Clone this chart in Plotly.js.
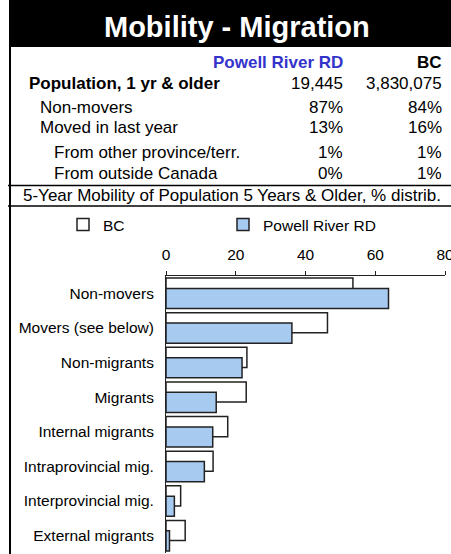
<!DOCTYPE html>
<html>
<head>
<meta charset="utf-8">
<script src="https://cdn.plot.ly/plotly-3.0.1.min.js"></script>
<style>
  html, body { margin: 0; padding: 0; background: #fff; }
  #chart { width: 451px; height: 554px; }
</style>
</head>
<body>
<div id="chart"></div>
<script>
// ---------- data ----------
const chartTitle = "Mobility - Migration";
const regionName = "Powell River RD";
const provName = "BC";
const tableLabels = ["Population, 1 yr & older", "Non-movers", "Moved in last year", "From other province/terr.", "From outside Canada"];
const tableRegion = ["19,445", "87%", "13%", "1%", "0%"];
const tableProv = ["3,830,075", "84%", "16%", "1%", "1%"];
const sectionTitle = "5-Year Mobility of Population 5 Years & Older, % distrib.";

const categories = ["Non-movers", "Movers (see below)", "Non-migrants", "Migrants", "Internal migrants", "Intraprovincial mig.", "Interprovincial mig.", "External migrants"];
const bcValues = [53.6, 46.3, 23.2, 23.0, 17.7, 13.5, 4.2, 5.5];
const prValues = [63.8, 36.1, 21.8, 14.4, 13.4, 11.0, 2.4, 1.0];
const xTicks = [0, 20, 40, 60, 80];

// ---------- layout helpers ----------
const W = 451, H = 554;
const M = { l: 166, r: 6, t: 276, b: 1 };
const PW = W - M.l - M.r, PH = H - M.t - M.b;
const px = v => (v - M.l) / PW;
const py = v => (H - M.b - v) / PH;
const FONT = "Liberation Sans, Arial, sans-serif";

function ann(text, x, baseline, anchor, size, color) {
  return {
    text: text, xref: "paper", yref: "paper",
    x: px(x), y: py(baseline - 0.36 * size),
    xanchor: anchor, yanchor: "middle", showarrow: false,
    font: { family: FONT, size: size, color: color || "#000" },
    borderpad: 0
  };
}

const annotations = [];
annotations.push(ann("<b>" + chartTitle + "</b>", 237, 37.5, "center", 29, "#fff"));
annotations.push(ann("<b>" + regionName + "</b>", 344, 68.3, "right", 17, "#3333CC"));
annotations.push(ann("<b>" + provName + "</b>", 443, 68.3, "right", 17, "#000"));
const rowBase = [90, 114, 134, 159, 179.3];
const rowIndent = [28, 39, 39, 53, 53];
tableLabels.forEach((lab, i) => {
  annotations.push(ann(i === 0 ? "<b>" + lab + "</b>" : lab, rowIndent[i], rowBase[i], "left", 17));
  annotations.push(ann(tableRegion[i], 344, rowBase[i], "right", 17));
  annotations.push(ann(tableProv[i], 443, rowBase[i], "right", 17));
});
annotations.push(ann(sectionTitle, 22, 201.7, "left", 17));

function line(x0, y0, x1, y1, w) {
  return { type: "line", xref: "paper", yref: "paper", x0: px(x0), y0: py(y0), x1: px(x1), y1: py(y1),
    line: { color: "#000", width: w } };
}
const shapes = [
  { type: "rect", xref: "paper", yref: "paper", x0: px(9), x1: px(452), y0: py(-1), y1: py(47),
    fillcolor: "#000", line: { width: 0 } },
  line(10, 46, 10, 556, 2),
  line(8, 185.5, 452, 185.5, 1.5),
  line(8, 206, 452, 206, 1.5)
];

const traces = [
  {
    type: "bar", orientation: "h", name: provName,
    y: categories, x: bcValues,
    width: 0.58, offset: -0.44,
    marker: { color: "#ffffff", line: { color: "#222", width: 1.5 } },
    hoverinfo: "x+y"
  },
  {
    type: "bar", orientation: "h", name: regionName,
    y: categories, x: prValues,
    width: 0.58, offset: -0.14,
    marker: { color: "#A7CAF0", line: { color: "#222", width: 1.5 } },
    hoverinfo: "x+y"
  }
];

const layout = {
  width: W, height: H,
  margin: M,
  paper_bgcolor: "#fff", plot_bgcolor: "rgba(0,0,0,0)",
  font: { family: FONT, size: 15.5, color: "#000" },
  barmode: "overlay",
  showlegend: true,
  legend: {
    orientation: "h", x: px(63), xanchor: "left", y: py(225), yanchor: "middle",
    entrywidth: 115, entrywidthmode: "pixels",
    font: { family: FONT, size: 15.5, color: "#000" },
    bgcolor: "rgba(0,0,0,0)", traceorder: "normal"
  },
  xaxis: {
    side: "top", range: [0, 80], tickvals: xTicks, ticktext: xTicks.map(String),
    showgrid: false, zeroline: false, showline: true, linecolor: "#222", linewidth: 1,
    ticks: "outside", ticklen: 4, tickcolor: "#222", tickwidth: 1,
    ticklabelstandoff: 5, ticklabeloverflow: "allow",
    tickfont: { family: FONT, size: 15.5, color: "#000" }, fixedrange: true
  },
  yaxis: {
    type: "category", range: [7.5, -0.5], autorange: false,
    showgrid: false, zeroline: false, showline: true, linecolor: "#222", linewidth: 1,
    ticks: "", ticklabelstandoff: 8,
    tickfont: { family: FONT, size: 15.5, color: "#000" }, fixedrange: true
  },
  shapes: shapes,
  annotations: annotations
};

Plotly.newPlot("chart", traces, layout, { displayModeBar: false, staticPlot: true });
</script>
</body>
</html>
